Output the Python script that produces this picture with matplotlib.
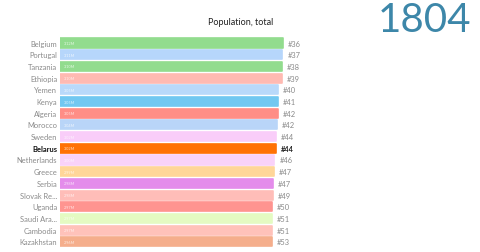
import matplotlib
matplotlib.use("Agg")
import matplotlib.pyplot as plt

# data (1804 frame)
countries = ["Belgium", "Portugal", "Tanzania", "Ethiopia", "Yemen", "Kenya",
             "Algeria", "Morocco", "Sweden", "Belarus", "Netherlands", "Greece",
             "Serbia", "Slovak Re...", "Uganda", "Saudi Ara...", "Cambodia", "Kazakhstan"]
population_m = [3.12, 3.11, 3.10, 3.10, 3.05, 3.05, 3.05, 3.04, 3.02, 3.02,
                3.00, 2.99, 2.98, 2.98, 2.97, 2.97, 2.97, 2.96]
ranks = ["#36", "#37", "#38", "#39", "#40", "#41", "#42", "#42", "#44", "#44",
         "#46", "#47", "#47", "#49", "#50", "#51", "#51", "#53"]
colors = ["#92dc8e", "#b6d6fb", "#92dc8e", "#ffbab2", "#b9d9fa", "#72c8f1",
          "#ff8e86", "#b9d5f8", "#f9cdf9", "#ff7204", "#f9d2f9", "#ffd699",
          "#e48ceb", "#ffbdb8", "#ff9490", "#e4fbc2", "#ffc2ba", "#f5ae8c"]
highlight = "Belarus"
year = "1804"
title = "Population, total"

plt.rcParams["font.family"] = ["Lato", "DejaVu Sans"]

fig = plt.figure(figsize=(4.8, 2.53), dpi=100)
ax = fig.add_axes([0.125, 0.017, 0.875, 0.832])

y = list(range(len(countries)))
bars = ax.barh(y, population_m, height=0.78, color=colors, edgecolor=colors,
               linewidth=1.2, joinstyle="round")
ax.set_xlim(0, 5.876)
ax.set_ylim(len(countries) - 0.5, -0.5)
ax.axis("off")

for i, (name, val, rk) in enumerate(zip(countries, population_m, ranks)):
    hl = name == highlight
    ax.text(-0.04, i, name, ha="right", va="center", fontsize=5.4,
            color="#111111" if hl else "#8a8a8a",
            fontweight="bold" if hl else "normal")
    ax.text(0.05, i, f"{val:.2f}M", ha="left", va="center", fontsize=2.8,
            color="#ffffff", alpha=0.75)
    ax.text(val + 0.07, i, rk, ha="left", va="center", fontsize=5.4,
            color="#222222" if hl else "#8a8a8a",
            fontweight="bold" if hl else "normal")

fig.text(0.502, 0.913, title, ha="center", va="center", fontsize=6.5, color="#222222")
fig.text(0.982, 0.918, year, ha="right", va="center", fontsize=29,
         color="#3d87a9", fontweight="normal")

fig.savefig("out.png", dpi=100, facecolor="white")
